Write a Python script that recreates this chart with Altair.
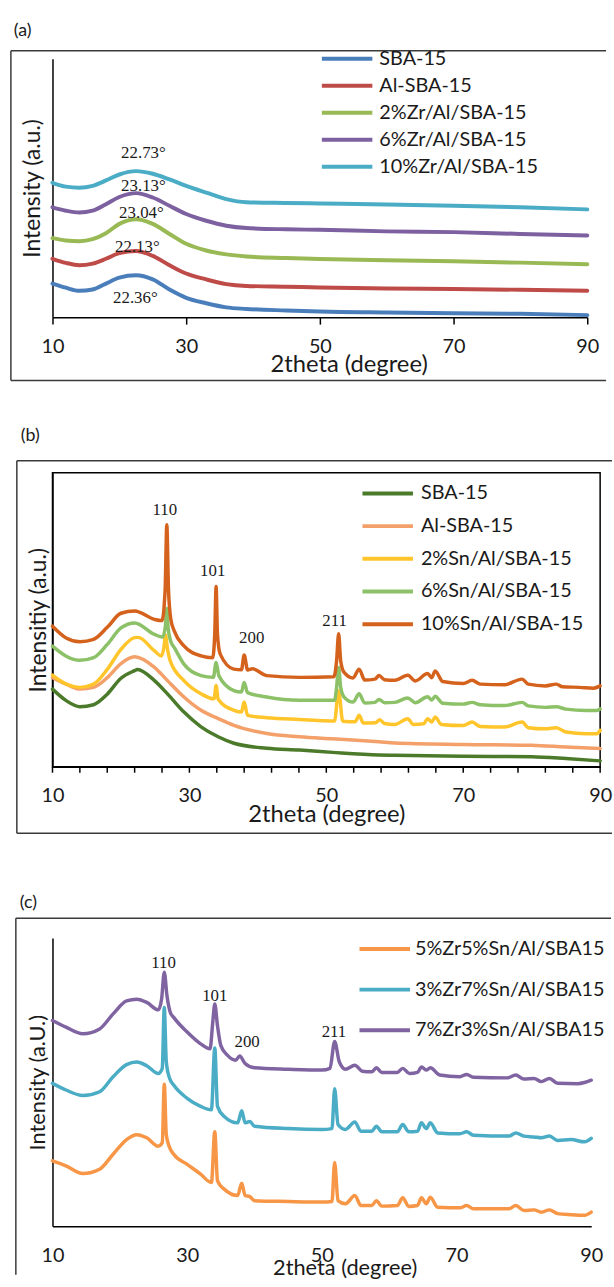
import altair as alt
import pandas as pd

FONT = "Lato"
SERIF = "Liberation Serif"
TXT = "#1a1a1a"
FRAME = "#3a3a3a"

# ---------------- panel (a) ----------------
A_NAMES = ["SBA-15", "Al-SBA-15", "2%Zr/Al/SBA-15", "6%Zr/Al/SBA-15", "10%Zr/Al/SBA-15"]
A_COLORS = ["#4a7ebb", "#be4b48", "#98b954", "#7d60a0", "#4bacc6"]
A_X = [10, 12, 14, 16, 18, 20, 22.5, 25, 27.5, 30, 33, 36, 39, 45, 50, 60, 70, 80, 90]
A_SBA15 = [13.0, 11.4, 10.2, 10.7, 13.0, 15.3, 16.2, 14.6, 10.7, 7.5, 5.4, 3.8, 3.2, 2.6, 2.2, 1.8, 1.5, 1.3, 0.8]
A_AL = [22.6, 21.0, 20.1, 20.7, 22.6, 24.8, 25.6, 23.7, 20.1, 16.9, 14.6, 12.8, 12.1, 11.8, 11.5, 11.1, 10.9, 10.6, 10.2]
A_ZR2 = [30.6, 29.7, 29.4, 30.2, 32.5, 36.1, 37.9, 36.1, 32.2, 28.4, 25.8, 24.3, 23.5, 22.9, 22.5, 22.0, 21.6, 21.1, 20.5]
A_ZR6 = [42.5, 41.2, 40.5, 41.2, 43.7, 46.5, 48.0, 46.3, 43.1, 39.9, 37.3, 35.4, 34.5, 34.0, 33.8, 33.2, 32.9, 32.2, 31.6]
A_ZR10 = [52.0, 50.5, 50.1, 50.8, 52.9, 55.2, 56.5, 55.5, 53.3, 50.8, 48.2, 45.7, 44.5, 44.2, 44.0, 43.6, 43.1, 42.5, 41.7]
A_LABELS = ["22.73°", "23.13°", "23.04°", "22.13°", "22.36°"]
A_LABEL_X = [23.6, 23.6, 23.3, 22.7, 22.4]
A_LABEL_Y = [63.6, 50.8, 40.2, 27.1, 7.3]
A_TICKS = [10, 30, 50, 70, 90]

# ---------------- panel (b) ----------------
B_NAMES = ["SBA-15", "Al-SBA-15", "2%Sn/Al/SBA-15", "6%Sn/Al/SBA-15", "10%Sn/Al/SBA-15"]
B_COLORS = ["#4a7a2a", "#f4a06a", "#ffc52a", "#8cc168", "#d5621c"]
B_SBA15_X = [10, 12, 14, 16, 18, 20, 22, 22.4, 24.9, 26.8, 29.2, 31.7, 34.2, 36.5, 41.3, 46.1, 50.9, 57.7, 60, 70, 80, 85, 90]
B_SBA15_Y = [26.4, 22.5, 20.4, 21.1, 24.7, 30.1, 32.7, 33.1, 29.3, 24.8, 18.6, 13.6, 10.2, 8.0, 6.3, 5.7, 4.9, 4.0, 3.9, 3.6, 3.4, 2.8, 2.0]
B_AL_X = [10, 12, 14, 16, 18, 20, 22, 24.9, 26.8, 29.2, 31.7, 34.2, 36.5, 41.3, 46.1, 50.9, 57.7, 60, 70, 80, 85, 90]
B_AL_Y = [30.3, 28.1, 26.4, 27.0, 30.3, 35.1, 37.4, 33.8, 29.3, 23.7, 19.2, 16.4, 14.1, 11.3, 10.2, 9.5, 8.5, 8.1, 7.6, 7.3, 6.7, 6.2]
B_SN2_X = [10, 12, 14, 16, 18, 20, 22, 22.5, 24.9, 25.9, 26.3, 26.5, 26.8, 27.2, 29.2, 31.7, 33.6, 33.9, 34.2,
           36.5, 37.6, 38.0, 38.5, 41.3, 46.1, 51.2, 51.8, 52.4, 54.2, 54.8, 55.4, 57.2, 57.8, 58.5, 60, 61.9, 62.7,
           64.2, 64.8, 65.4, 65.9, 66.8, 70, 71.3, 72.5, 76, 78.6, 79.5, 82, 83.6, 85, 88, 89.5, 90]
B_SN2_Y = [31.2, 28.1, 27.0, 28.1, 33.1, 39.9, 43.9, 44.0, 39.4, 37.7, 41.0, 44.8, 40.0, 36.0, 29.3, 24.8, 23.1, 27.6, 23.0,
           19.2, 18.6, 22.0, 17.5, 16.7, 16.1, 15.6, 25.9, 15.5, 15.3, 17.5, 14.9, 15.0, 16.0, 14.7, 14.4, 16.3, 14.4,
           14.6, 16.3, 15.2, 16.9, 14.4, 14.0, 15.2, 13.7, 13.5, 15.2, 13.3, 12.9, 13.3, 11.8, 11.2, 11.2, 12.4]
B_SN6_X = [10, 12, 14, 16, 18, 20, 22, 24.9, 26.1, 26.5, 26.7, 26.9, 27.3, 27.8, 29.2, 31.7, 33.5, 33.9, 34.3,
           36.5, 37.6, 38.0, 38.5, 41.3, 46.1, 51.2, 51.5, 51.8, 52.1, 52.6, 53.9, 54.8, 55.6, 57.1, 57.7, 58.5,
           60, 61.9, 63, 64.8, 65.4, 65.9, 67, 70, 71.3, 72.5, 76, 78.6, 79.5, 82, 83.6, 85, 88, 89.5, 90]
B_SN6_Y = [41.0, 37.6, 36.2, 37.1, 41.6, 47.2, 48.9, 45.0, 44.1, 48.0, 53.8, 47.0, 42.5, 40.5, 34.9, 31.0, 30.4, 35.5, 31.0,
           25.9, 25.4, 28.7, 25.2, 23.7, 22.6, 22.6, 27.0, 33.8, 27.0, 23.7, 22.0, 24.8, 21.7, 21.9, 22.9, 21.8,
           21.9, 23.4, 21.8, 23.8, 22.7, 24.0, 21.6, 21.3, 21.9, 21.1, 20.8, 21.9, 20.7, 20.2, 20.4, 19.6, 19.1, 19.1, 19.7]
B_SN10_X = [10, 12, 14, 16, 18, 20, 22, 24.9, 26.0, 26.45, 26.7, 26.95, 27.3, 27.8, 29.2, 31.7, 33.4, 33.7, 33.9, 34.1, 34.5,
            36.5, 37.6, 38.0, 38.5, 39.2, 41.3, 46.1, 51.1, 51.5, 51.8, 52.1, 52.6, 53.9, 54.8, 55.6, 57.1, 57.7, 58.5,
            60, 61.9, 63, 64.8, 65.4, 65.9, 67, 70, 71.3, 72.5, 76, 78.6, 79.5, 82, 83.6, 84.5, 87, 89, 90]
B_SN10_Y = [47.8, 43.8, 42.5, 43.3, 47.4, 52.2, 53.0, 50.1, 49.7, 60.0, 82.3, 60.0, 50.0, 46.1, 41.1, 37.7, 37.1, 45.0, 61.3, 45.0, 38.3,
            33.2, 33.0, 38.0, 32.9, 33.3, 31.0, 30.4, 30.6, 36.0, 45.2, 36.0, 32.1, 30.2, 33.2, 29.5, 29.8, 31.0, 29.6,
            29.4, 31.1, 29.2, 31.7, 30.3, 32.6, 29.0, 28.3, 29.4, 28.1, 27.9, 29.8, 28.1, 27.5, 28.1, 27.2, 27.0, 26.7, 27.5]
B_LABELS = ["110", "101", "200", "211"]
B_LABEL_X = [26.4, 33.4, 39.1, 51.2]
B_LABEL_Y = [87.4, 66.6, 43.9, 49.5]
B_LABEL_TICKS = [10, 30, 50, 70, 90]
B_TICKS = [10, 14, 18, 22, 26, 30, 34, 38, 42, 46, 50, 54, 58, 62, 66, 70, 74, 78, 82, 86, 90]

# ---------------- panel (c) ----------------
C_NAMES = ["5%Zr5%Sn/Al/SBA15", "3%Zr7%Sn/Al/SBA15", "7%Zr3%Sn/Al/SBA15"]
C_COLORS = ["#f79646", "#4bacc6", "#8064a2"]
C_X = [10, 12, 14.5, 17, 19, 21, 22.5, 24, 25.7, 26.3, 26.6, 26.9, 27.4, 28, 30, 32, 33.6, 34.1, 34.5, 35.5,
       37.5, 38.1, 38.6, 39.3, 40, 45, 50, 51.5, 51.9, 52.4, 53.5, 54.9, 55.8, 57.4, 58.1, 58.9, 61.2, 62.0, 62.9,
       64.2, 64.8, 65.5, 66.1, 67.2, 70.5, 71.5, 72.5, 77.8, 78.8, 80, 81.5, 82.6, 83.8, 85, 87, 89, 90]
C_ZR5_Y = [22.7, 21.0, 18.3, 19.8, 25.0, 30.1, 31.8, 30.7, 27.8, 29.0, 49.3, 31.8, 27.3, 25.0, 21.5, 18.1, 15.2, 32.8, 15.8, 12.9,
           10.7, 14.9, 10.7, 10.3, 8.9, 8.6, 8.4, 8.6, 22.1, 8.9, 7.8, 10.7, 7.2, 7.2, 8.9, 7.0, 7.2, 9.9, 6.9,
           7.2, 9.9, 7.8, 10.1, 6.6, 6.4, 7.2, 6.1, 6.1, 7.2, 5.5, 5.7, 4.9, 5.7, 4.4, 4.0, 3.8, 4.9]
C_ZR3_Y = [49.6, 47.3, 45.4, 46.7, 51.9, 56.1, 57.0, 55.7, 53.0, 54.8, 75.9, 57.0, 51.3, 49.0, 44.4, 41.6, 40.4, 61.9, 41.6, 38.1,
           35.9, 40.1, 35.9, 36.4, 34.7, 33.9, 33.6, 33.9, 47.7, 35.3, 33.6, 36.2, 33.0, 33.0, 34.7, 32.8, 32.8, 35.3, 32.8,
           33.0, 35.9, 33.9, 35.9, 32.4, 32.1, 32.8, 31.6, 31.3, 32.4, 31.3, 31.0, 30.7, 31.3, 29.8, 30.1, 29.3, 30.5]
C_ZR7_X = [10, 12, 14.5, 17, 19, 21, 22.5, 24, 25.7, 26.2, 26.6, 27.0, 27.5, 28, 30, 32, 33.4, 33.8, 34.1, 34.5, 35, 36,
           37.2, 37.8, 38.6, 40, 45, 50, 51.2, 51.9, 52.6, 53.5, 54.9, 56, 57.4, 58.1, 58.9, 61.2, 62.0, 63,
           64.2, 64.8, 65.5, 66.1, 67.5, 70.5, 71.5, 72.5, 77.5, 78.8, 80, 81.5, 82.6, 83.8, 85, 88, 89, 90]
C_ZR7_Y = [71.4, 69.1, 66.8, 68.5, 73.7, 78.2, 78.8, 77.7, 75.1, 78.8, 88.2, 80.0, 74.2, 72.5, 67.4, 63.3, 61.6, 70.8, 77.1, 69.6, 62.7, 59.3,
           57.6, 59.1, 56.5, 55.0, 54.5, 54.2, 54.8, 64.1, 57.0, 54.5, 55.9, 53.8, 53.6, 55.0, 53.4, 53.4, 54.8, 53.0,
           53.4, 55.3, 54.2, 55.0, 52.5, 51.9, 52.7, 51.7, 51.5, 52.5, 51.1, 51.3, 50.2, 51.3, 49.6, 49.5, 49.9, 50.7]
C_LABELS = ["110", "101", "200", "211"]
C_LABEL_X = [26.5, 34.1, 38.9, 51.8]
C_LABEL_Y = [91.4, 80.0, 63.9, 67.4]
C_TICKS = [10, 30, 50, 70, 90]


def series_frame(names, xs, ys):
    rows = []
    for n, xl, yl in zip(names, xs, ys):
        assert len(xl) == len(yl), n
        rows += [{"series": n, "x": a, "y": b} for a, b in zip(xl, yl)]
    return pd.DataFrame(rows)


def label_frame(texts, xs, ys):
    return pd.DataFrame({"t": texts, "x": xs, "y": ys})


def rule(color=FRAME, width=1.5, **vals):
    enc = {k: alt.value(v) for k, v in vals.items()}
    return alt.Chart(alt.Data(values=[{"k": 0}])).mark_rule(color=color, strokeWidth=width).encode(**enc)


def tag(text, x, y):
    return alt.Chart(alt.Data(values=[{"t": text}])).mark_text(
        align="left", baseline="middle", font=FONT, fontSize=18, color=TXT
    ).encode(x=alt.value(x), y=alt.value(y), text="t:N")


def panel(df, names, colors, w, h, sw, x_axis, y_title, y_title_x, y_title_size,
          leg, labels_df, label_size, extras):
    xs = alt.Scale(domain=[10, 90], nice=False, zero=False)
    ys = alt.Scale(domain=[0, 100], nice=False, zero=False)
    y_axis = alt.Axis(labels=False, ticks=False, grid=False, domainColor="black", domainWidth=1.5,
                      title=y_title, titleFont=FONT, titleFontSize=y_title_size, titleFontWeight="normal",
                      titleColor=TXT, titleX=y_title_x, titleY=h / 2, titleBaseline="middle")
    lines = alt.Chart(df).mark_line(strokeWidth=sw, interpolate="monotone", strokeJoin="round",
                                    strokeCap="round").encode(
        x=alt.X("x:Q", scale=xs, axis=x_axis),
        y=alt.Y("y:Q", scale=ys, axis=y_axis),
        color=alt.Color("series:N", scale=alt.Scale(domain=names, range=colors), legend=leg),
    )
    text = alt.Chart(labels_df).mark_text(font=SERIF, fontSize=label_size, color=TXT).encode(
        x="x:Q", y="y:Q", text="t:N")
    return alt.layer(lines, text, *extras).properties(width=w, height=h)


def legend(x, y, row_pad, label_off, size):
    return alt.Legend(orient="none", legendX=x, legendY=y, title=None, symbolType="M-3,0H3",
                      symbolSize=289, symbolStrokeWidth=4, labelFont=FONT, labelFontSize=size,
                      labelColor=TXT, rowPadding=row_pad, labelOffset=label_off, padding=0,
                      labelLimit=400)


# ---- (a)
a_df = series_frame(A_NAMES, [A_X] * 5, [A_SBA15, A_AL, A_ZR2, A_ZR6, A_ZR10])
a_xaxis = alt.Axis(values=A_TICKS, tickSize=7, tickColor="black", tickWidth=1.5, domainColor="black",
                   domainWidth=1.5, grid=False, labelFont=FONT, labelFontSize=20, labelColor=TXT,
                   labelPadding=13, labelFlush=False, labelOverlap=False, title="2theta (degree)",
                   titleFont=FONT, titleFontSize=24, titleFontWeight="normal", titleColor=TXT,
                   titleX=299, titleY=48, titleBaseline="middle")
pa = panel(a_df, A_NAMES, A_COLORS, 540, 261, 4, a_xaxis, "Intensity (a.u.)", -20, 23,
           legend(287, -10.5, 6.3, 22, 20), label_frame(A_LABELS, A_LABEL_X, A_LABEL_Y), 17,
           [rule(x=-42, x2=559, y=-8), rule(x=-42, y=-8, y2=325), rule(x=-42, x2=559, y=325),
            tag("(a)", -39, -28)])

# ---- (b)
b_df = series_frame(B_NAMES, [B_SBA15_X, B_AL_X, B_SN2_X, B_SN6_X, B_SN10_X],
                    [B_SBA15_Y, B_AL_Y, B_SN2_Y, B_SN6_Y, B_SN10_Y])
b_xaxis = alt.Axis(values=B_LABEL_TICKS, ticks=False, tickSize=0, domainColor="black",
                   domainWidth=1.5, grid=False, labelFont=FONT, labelFontSize=20, labelColor=TXT,
                   labelPadding=19, labelFlush=False, labelOverlap=False,
                   title="2theta (degree)", titleFont=FONT, titleFontSize=24, titleFontWeight="normal",
                   titleColor=TXT, titleX=276.5, titleY=48, titleBaseline="middle")
b_minor = alt.Chart(pd.DataFrame({"x": B_TICKS})).mark_rule(color="black", strokeWidth=1.5).encode(
    x="x:Q", y=alt.value(297), y2=alt.value(303))
pb = panel(b_df, B_NAMES, B_COLORS, 553, 297, 3.5, b_xaxis, "Intensitiy (a.u.)", -14, 23,
           legend(328, 10.5, 12.0, 23, 20), label_frame(B_LABELS, B_LABEL_X, B_LABEL_Y), 17,
           [b_minor, rule(x=-36, x2=565, y=-12), rule(x=-36, y=-12, y2=364), rule(x=-36, x2=565, y=364),
            rule(color="white", width=1, x=-30, x2=-25, y=379), tag("(b)", -32, -37)]
           ).properties(view=alt.ViewBackground(stroke="black", strokeWidth=1.5))

# ---- (c)
c_df = series_frame(C_NAMES, [C_X, C_X, C_ZR7_X], [C_ZR5_Y, C_ZR3_Y, C_ZR7_Y])
c_xaxis = alt.Axis(values=C_TICKS, ticks=False, tickSize=0, domainColor="black", domainWidth=1.5,
                   grid=False, labelFont=FONT, labelFontSize=20, labelColor=TXT, labelPadding=20,
                   labelFlush=False, labelOverlap=False, title="2theta (degree)", titleFont=FONT,
                   titleFontSize=22, titleFontWeight="normal", titleColor=TXT, titleX=295, titleY=42,
                   titleBaseline="middle")
pc = panel(c_df, C_NAMES, C_COLORS, 544, 291, 3.5, c_xaxis, "Intensity (a.U.)", -15, 22,
           legend(325, 0.5, 20.0, 20, 20), label_frame(C_LABELS, C_LABEL_X, C_LABEL_Y), 17,
           [rule(x=-37, x2=564, y=-20), rule(x=-37, y=-20, y2=340), tag("(c)", -33, -35)])

chart = alt.vconcat(pa, pb, pc, spacing=45).resolve_scale(
    color="independent", x="independent", y="independent"
).resolve_legend(color="independent").properties(
    padding={"left": 10, "top": 16, "right": 0, "bottom": 0}
).configure_view(strokeWidth=0)

chart.save("out.html", embed_options={"renderer": "svg", "actions": False})
